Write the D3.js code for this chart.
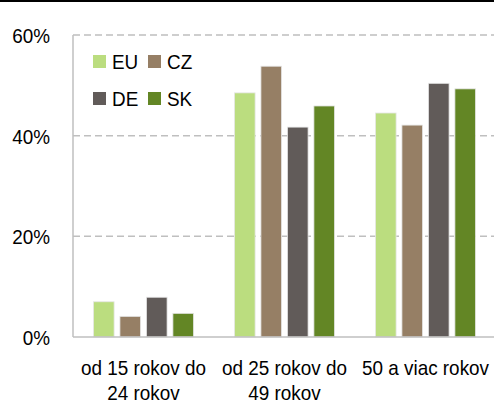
<!DOCTYPE html>
<html>
<head>
<meta charset="utf-8">
<script src="https://cdn.jsdelivr.net/npm/d3@7"></script>
<style>
  body { margin: 0; background: #fff; }
  svg { display: block; font-family: "Liberation Sans", Arial, sans-serif; }
</style>
</head>
<body>
<div id="chart"></div>
<script>
var categories = [["od 15 rokov do", "24 rokov"], ["od 25 rokov do", "49 rokov"], ["50 a viac rokov"]];
var seriesNames = ["EU", "CZ", "DE", "SK"];
var seriesColors = ["#bbdd7f", "#967f65", "#615b59", "#638625"];
var values = {
  EU: [7.0, 48.5, 44.5],
  CZ: [4.1, 53.8, 42.1],
  DE: [7.9, 41.7, 50.4],
  SK: [4.7, 45.9, 49.3]
};
var yTicks = [0, 20, 40, 60];

var width = 494, height = 403;
var margin = {top: 35, right: -2, bottom: 66, left: 73};
var fs = 21, sx = 0.9; // font looks a little condensed

var svg = d3.select("#chart").append("svg")
    .attr("width", width)
    .attr("height", height);

// black rule along the top
svg.append("rect").attr("x", 0).attr("y", 0).attr("width", width).attr("height", 2).attr("fill", "#000");

var x0 = d3.scaleBand()
    .domain(d3.range(categories.length))
    .range([margin.left, width - margin.right])
    .paddingInner(0.29).paddingOuter(0.145);

var x1 = d3.scaleBand()
    .domain(seriesNames)
    .range([0, x0.bandwidth()])
    .paddingInner(0.22);

var y = d3.scaleLinear()
    .domain([0, 60])
    .range([height - margin.bottom, margin.top]);

function tr(x, yy) { return "translate(" + x + "," + yy + ") scale(" + sx + ",1)"; }

// gridlines
svg.append("g").selectAll("line")
    .data(yTicks.filter(function(d) { return d > 0; }))
    .enter().append("line")
    .attr("x1", margin.left).attr("x2", width)
    .attr("y1", function(d) { return y(d); })
    .attr("y2", function(d) { return y(d); })
    .attr("stroke", "#bfbfbf")
    .attr("stroke-width", 1.5)
    .attr("stroke-dasharray", "7,4");

// y labels
svg.append("g").selectAll("text")
    .data(yTicks)
    .enter().append("text")
    .attr("transform", function(d) { return tr(50, y(d) + 8); })
    .attr("text-anchor", "end")
    .attr("font-size", fs)
    .attr("fill", "#000")
    .text(function(d) { return d + "%"; });

// bars
var groups = svg.append("g").selectAll("g")
    .data(categories)
    .enter().append("g")
    .attr("transform", function(d, i) { return "translate(" + x0(i) + ",0)"; });

groups.selectAll("rect")
    .data(function(d, i) { return seriesNames.map(function(s, k) { return {s: s, v: values[s][i], c: seriesColors[k]}; }); })
    .enter().append("rect")
    .attr("x", function(d) { return x1(d.s); })
    .attr("y", function(d) { return y(d.v); })
    .attr("width", x1.bandwidth())
    .attr("height", function(d) { return y(0) - y(d.v); })
    .attr("fill", function(d) { return d.c; })
    .attr("stroke", "#e6e6e6")
    .attr("stroke-width", 0.8);

// axes lines
svg.append("line")
    .attr("x1", margin.left).attr("x2", margin.left)
    .attr("y1", y(60)).attr("y2", y(0))
    .attr("stroke", "#bfbfbf").attr("stroke-width", 1.5);
svg.append("line")
    .attr("x1", margin.left).attr("x2", width)
    .attr("y1", y(0)).attr("y2", y(0))
    .attr("stroke", "#bfbfbf").attr("stroke-width", 1.5);

// category labels
var labels = svg.append("g").selectAll("text")
    .data(categories)
    .enter().append("text")
    .attr("transform", function(d, i) { return tr(x0(i) + x0.bandwidth() / 2, 375); })
    .attr("text-anchor", "middle")
    .attr("font-size", fs)
    .attr("fill", "#000");
labels.selectAll("tspan")
    .data(function(d) { return d; })
    .enter().append("tspan")
    .attr("x", 0)
    .attr("dy", function(d, i) { return i === 0 ? 0 : 25; })
    .text(function(d) { return d; });

// legend
var legend = svg.append("g").selectAll("g")
    .data(seriesNames)
    .enter().append("g")
    .attr("transform", function(d, i) { return "translate(" + (93 + (i % 2) * 55) + "," + (55 + Math.floor(i / 2) * 37) + ")"; });
legend.append("rect")
    .attr("width", 13).attr("height", 13)
    .attr("fill", function(d, i) { return seriesColors[i]; });
legend.append("text")
    .attr("transform", tr(19, 14))
    .attr("font-size", fs)
    .text(function(d) { return d; });
</script>
</body>
</html>
